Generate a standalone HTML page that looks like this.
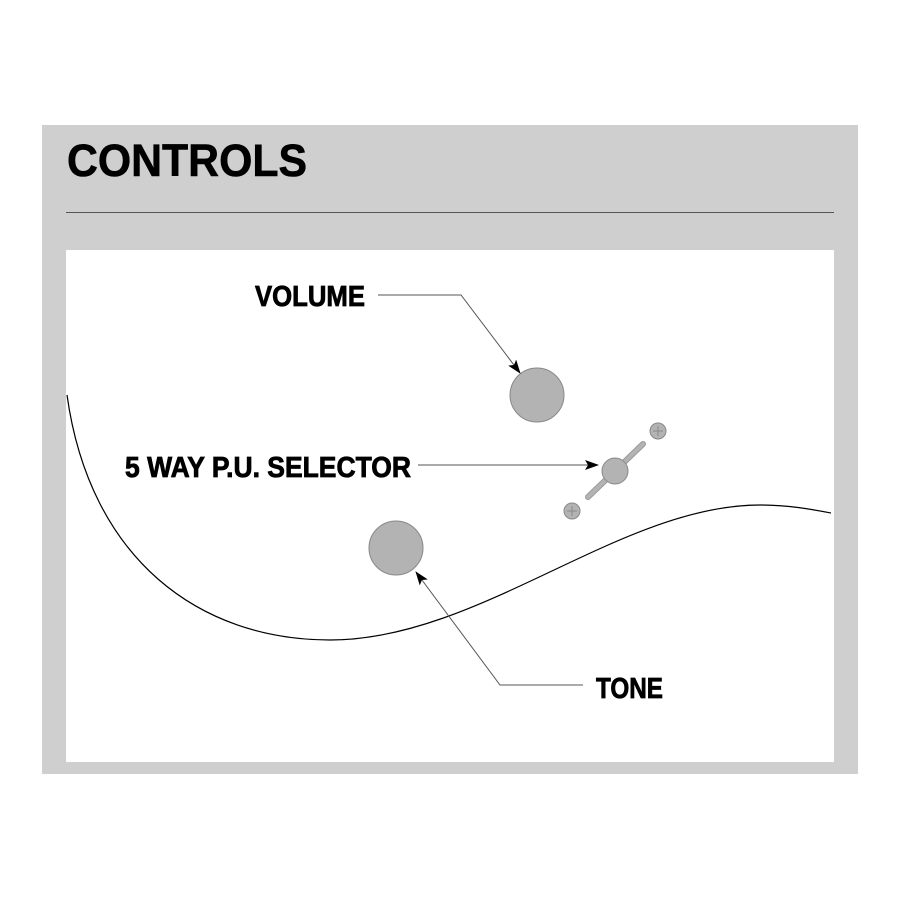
<!DOCTYPE html>
<html><head><style>
html,body{margin:0;padding:0;background:#fff;width:900px;height:900px;overflow:hidden}
</style></head><body>
<svg width="900" height="900" viewBox="0 0 900 900" xmlns="http://www.w3.org/2000/svg">
<defs>
<marker id="ar" markerWidth="14" markerHeight="10" refX="13" refY="5" orient="auto" markerUnits="userSpaceOnUse">
<path d="M0,0 L14,5 L0,10 L3,5 Z" fill="#000"/>
</marker>
</defs>
<rect x="42" y="125" width="816" height="649" fill="#cfcfcf"/>
<text x="67" y="176" font-family="Liberation Sans, sans-serif" font-weight="bold" font-size="45" textLength="240" lengthAdjust="spacingAndGlyphs" fill="#000" stroke="#000" stroke-width="0.6">CONTROLS</text>
<line x1="66" y1="212.5" x2="834" y2="212.5" stroke="#555" stroke-width="1"/>
<rect x="66" y="250" width="768" height="512" fill="#fff"/>
<path d="M67,395 C90,560 200,640 330,640 C480,640 620,505 760,505 C790,505 815,510 831,513" fill="none" stroke="#000" stroke-width="1.2"/>
<circle cx="537" cy="395" r="27" fill="#b3b3b3" stroke="#888" stroke-width="1"/>
<circle cx="396" cy="548" r="27" fill="#b3b3b3" stroke="#888" stroke-width="1"/>
<line x1="588" y1="497" x2="643" y2="444" stroke="#999" stroke-width="6" stroke-linecap="round"/>
<line x1="588" y1="497" x2="643" y2="444" stroke="#b3b3b3" stroke-width="4" stroke-linecap="round"/>
<circle cx="615" cy="471" r="13" fill="#b3b3b3" stroke="#888" stroke-width="1"/>
<g stroke="#888" stroke-width="1">
<circle cx="658" cy="431" r="8" fill="#b3b3b3"/>
<line x1="653" y1="431" x2="663" y2="431"/><line x1="658" y1="426" x2="658" y2="436"/>
<circle cx="572" cy="511" r="8" fill="#b3b3b3"/>
<line x1="567" y1="511" x2="577" y2="511"/><line x1="572" y1="506" x2="572" y2="516"/>
</g>
<g fill="none" stroke="#555" stroke-width="1">
<polyline points="378,295 461,295 520,373" marker-end="url(#ar)"/>
<polyline points="418,465 598,465" marker-end="url(#ar)"/>
<polyline points="583,685 500,685 416,572" marker-end="url(#ar)"/>
</g>
<g font-family="Liberation Sans, sans-serif" font-weight="bold" font-size="29" fill="#000" stroke="#000" stroke-width="0.8">
<text x="255" y="306" textLength="110" lengthAdjust="spacingAndGlyphs">VOLUME</text>
<text x="125" y="477" textLength="286" lengthAdjust="spacingAndGlyphs">5 WAY P.U. SELECTOR</text>
<text x="596" y="698" textLength="67" lengthAdjust="spacingAndGlyphs">TONE</text>
</g>
</svg>
</body></html>
